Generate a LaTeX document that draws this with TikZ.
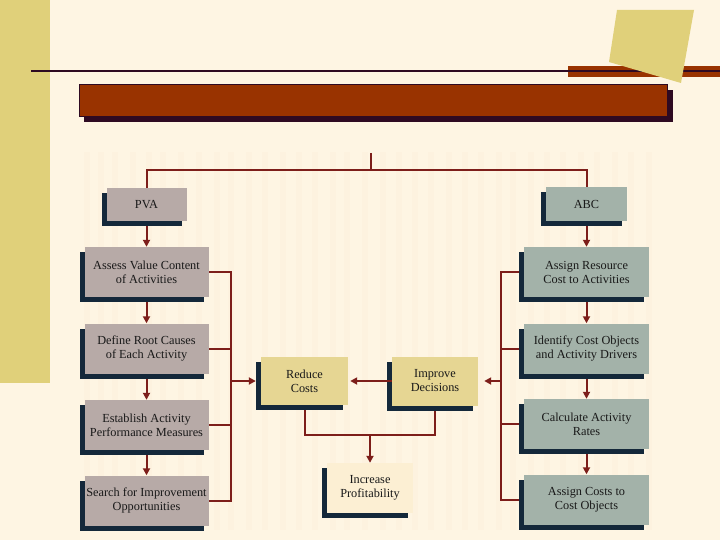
\documentclass[tikz,border=0pt]{standalone}
\usepackage{fontspec}
\setmainfont{Liberation Serif}
\usetikzlibrary{arrows.meta,shadows}
\pgfdeclarelayer{back}
\pgfdeclarelayer{bg}
\pgfsetlayers{back,bg,main}
\definecolor{bgc}{HTML}{FEF5E3}
\definecolor{stripec}{HTML}{FDF2DF}
\definecolor{goldc}{HTML}{E0D07A}
\definecolor{brownc}{HTML}{993300}
\definecolor{darkc}{HTML}{2E0A22}
\definecolor{shadc}{HTML}{14283A}
\definecolor{pvac}{HTML}{B7AAA7}
\definecolor{abcc}{HTML}{A3B2A9}
\definecolor{yelc}{HTML}{E6D693}
\definecolor{incc}{HTML}{FCEFD3}
\definecolor{linec}{HTML}{7D1E1A}
\tikzset{
  box/.style={draw=none, align=center, inner sep=1pt,
    font=\fontsize{12.3}{14}\selectfont, text=black!90,
    general shadow={fill=shadc, shadow xshift=-5pt, shadow yshift=-5pt}},
  pbox/.style={box, fill=pvac},
  abox/.style={box, fill=abcc},
  ybox/.style={box, fill=yelc},
  ibox/.style={box, fill=incc},
  conn/.style={draw=linec, line width=2pt},
  arr/.style={conn, -{Triangle[length=7pt,width=7pt]}}
}
\begin{document}
\begin{tikzpicture}[x=1pt,y=-1pt]
\useasboundingbox (0,0) rectangle (720,540);
\begin{pgfonlayer}{back}
\fill[bgc] (0,0) rectangle (720,540);
\foreach \x in {84,98,112,130,146,160,178,196,214,228,246,262,280,296,312,330,344,362,380,396,412,428,446,462,478,496,510,528,544,560,578,594,612,628,646}
  \fill[stripec] (\x,152) rectangle ++(6,378);
\fill[goldc] (0,0) rectangle (50,383);
\end{pgfonlayer}
% header
\fill[brownc] (568,66) rectangle (720,77);
\draw[darkc, line width=2pt] (31,71) -- (720,71);
\fill[goldc] (617,10) -- (694,10) -- (681,83) -- (609,62) -- cycle;
\fill[darkc] (84,90) rectangle (673,122);
\filldraw[fill=brownc, draw=darkc, line width=0.6pt] (79,84) rectangle (667,116);
% nodes
\node[pbox, minimum width=80pt, minimum height=33pt] (pva) at (146.5,204.5) {PVA};
\node[abox, minimum width=81pt, minimum height=34pt] (abc) at (586.5,204.5) {ABC};
\node[pbox, minimum width=124pt, minimum height=50pt] (assess) at (146.5,272) {Assess Value Content\\of Activities};
\node[pbox, minimum width=124pt, minimum height=50pt] (define) at (146.5,348.5) {Define Root Causes\\of Each Activity};
\node[pbox, minimum width=124pt, minimum height=50pt] (establish) at (146.5,425) {Establish Activity\\Performance Measures};
\node[pbox, minimum width=124pt, minimum height=50pt] (search) at (146.5,500.5) {Search for Improvement\\Opportunities};
\node[abox, minimum width=125pt, minimum height=50pt] (resource) at (586.5,272) {Assign Resource\\Cost to Activities};
\node[abox, minimum width=125pt, minimum height=50pt] (identify) at (586.5,348.5) {Identify Cost Objects\\and Activity Drivers};
\node[abox, minimum width=125pt, minimum height=50pt] (calc) at (586.5,424) {Calculate Activity\\Rates};
\node[abox, minimum width=125pt, minimum height=50pt] (costobj) at (586.5,499.5) {Assign Costs to\\Cost Objects};
\node[ybox, minimum width=87pt, minimum height=48pt] (reduce) at (304.5,381) {Reduce\\Costs};
\node[ybox, minimum width=86pt, minimum height=49pt] (improve) at (435,381) {Improve\\Decisions};
\node[ibox, minimum width=86pt, minimum height=50pt] (increase) at (370,488) {Increase\\Profitability};
\coordinate (top) at (371,153);
\coordinate (j) at (371,170);
\coordinate (bl) at (231,381);
\coordinate (br) at (501,381);
\coordinate (jb) at (370,435);
\begin{pgfonlayer}{bg}
\draw[conn] (top) -- (j);
\draw[conn] (pva.north) |- (j) -| (abc.north);
\draw[arr] (pva) -- (assess);
\draw[arr] (assess) -- (define);
\draw[arr] (define) -- (establish);
\draw[arr] (establish) -- (search);
\draw[arr] (abc) -- (resource);
\draw[arr] (resource) -- (identify);
\draw[arr] (identify) -- (calc);
\draw[arr] (calc) -- (costobj);
\draw[conn] (assess.east) -| (bl);
\draw[conn] (search.east) -| (bl);
\draw[conn] (define.east) -- (define.east -| bl);
\draw[conn] (establish.east) -- (establish.east -| bl);
\draw[conn] (resource.west) -| (br);
\draw[conn] (costobj.west) -| (br);
\draw[conn] (identify.west) -- (identify.west -| br);
\draw[conn] (calc.west) -- (calc.west -| br);
\draw[conn] (reduce.south) |- (jb);
\draw[conn] (improve.south) |- (jb);
\end{pgfonlayer}
\draw[arr, shorten >=5pt] (bl) -- (reduce.west);
\draw[arr, shorten >=6pt] (br) -- (improve.east);
\draw[arr, shorten >=2pt] (improve.west) -- (reduce.east);
\draw[arr] (jb) -- (increase.north);
\end{tikzpicture}
\end{document}
